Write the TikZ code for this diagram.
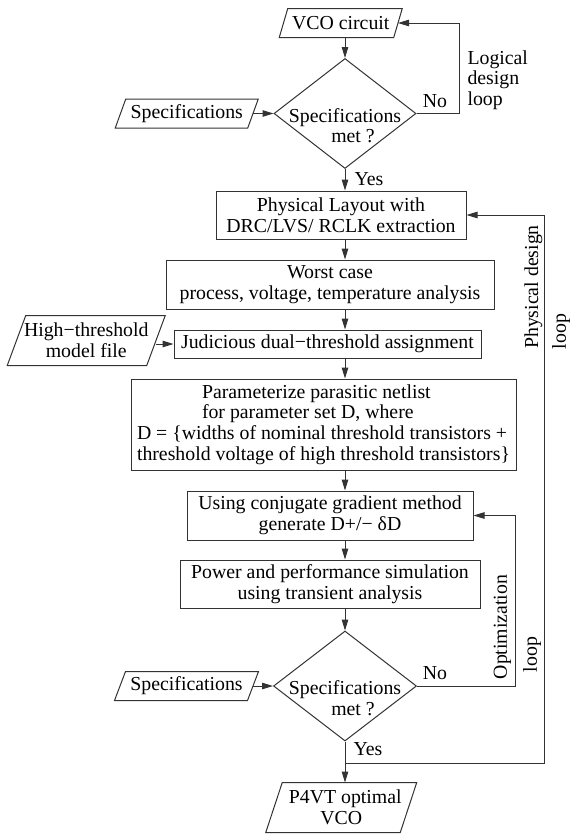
\documentclass[tikz,border=0pt]{standalone}
\usepackage{fontspec}
\setmainfont{Liberation Serif}
\usetikzlibrary{arrows.meta,shapes.geometric,calc}
\colorlet{linec}{black!80}
\tikzset{
  box/.style={draw=linec, rectangle, inner sep=0pt, align=center},
  slantbox/.style={rectangle, inner sep=0pt, align=center},
  decision/.style={draw=linec, diamond, inner sep=0pt},
  lbl/.style={inner sep=0pt, align=center},
  conn/.style={draw=linec},
}
\newcommand\slantframe[2]{\draw[linec] ($(#1.south west)+(-#2,0)$) -- ($(#1.south east)+(-#2,0)$) -- ($(#1.north east)+(#2,0)$) -- ($(#1.north west)+(#2,0)$) -- cycle;}
\begin{document}
\begin{tikzpicture}[x=1pt,y=-1pt,line width=1pt,
  font=\fontsize{19.8}{20.6}\selectfont,
  >={Triangle[length=11pt,width=6.5pt]}]
\useasboundingbox (0,0) rectangle (575,838);
\fill[white] (0,0) rectangle (575,838);
\coordinate (ax) at (345,0);

% top part
\node[slantbox, minimum width=113.5, minimum height=28] (vco) at (340.75,23) {VCO circuit};
\slantframe{vco}{4.25}
\node[decision, minimum width=142, minimum height=110] (d1) at (345,113.5) {};
\node[lbl] (d1t) at ($(d1)+(0,12)$) {Specifications\\\hspace*{16pt}met ?};
\node[slantbox, minimum width=131.5, minimum height=28] (spec1) at (186.75,113.5) {Specifications};
\slantframe{spec1}{5.25}
\node[lbl] (no1) at (435,101) {No};
\node[lbl, anchor=west, align=left] (lgl) at (467,80) {Logical\\design\\loop};
\node[lbl] (yes1) at (369,179) {Yes};

% boxes
\node[box, minimum width=250, minimum height=48] (phys) at (341,215) {Physical Layout with\\DRC/LVS/ RCLK extraction};
\node[box, minimum width=328, minimum height=49] (worst) at (330,284.5) {Worst case\\process, voltage, temperature analysis};
\node[box, minimum width=307, minimum height=28] (judi) at (327.5,344) {Judicious dual−threshold assignment};
\node[slantbox, minimum width=138.5, minimum height=49] (ht) at (86.25,340.5) {High−threshold\\model file};
\slantframe{ht}{9.25}
\node[box, minimum width=385, minimum height=91, align=left] (param) at (323.5,424.5) {\hspace*{65pt}Parameterize parasitic netlist\\\hspace*{65pt}for parameter set D, where\\D = \{widths of nominal threshold transistors +\\threshold voltage of high threshold transistors\}};
\node[box, minimum width=286, minimum height=49] (using) at (330,515.5) {Using conjugate gradient method\\generate D+/− δD};
\node[box, minimum width=300, minimum height=48] (power) at (330,584) {Power and performance simulation\\using transient analysis};

% bottom decision
\node[decision, minimum width=143, minimum height=110] (d2) at (345,686) {};
\node[lbl] (d2t) at ($(d2)+(0,12)$) {Specifications\\\hspace*{16pt}met ?};
\node[slantbox, minimum width=132, minimum height=28] (spec2) at (186.5,686) {Specifications};
\slantframe{spec2}{5.5}
\node[lbl] (no2) at (435,673) {No};
\node[lbl] (yes2) at (368,749) {Yes};
\node[slantbox, minimum width=133.5, minimum height=49] (p4vt) at (341.25,807.5) {\hspace*{8pt}P4VT optimal\\VCO};
\slantframe{p4vt}{8.25}

% loop labels
\node[lbl, rotate=90] (optl1) at (502.5,627) {Optimization};
\node[lbl, rotate=90] (optl2) at (532,654.5) {loop};
\node[lbl, rotate=90] (phyl1) at (533.5,287) {Physical design};
\node[lbl, rotate=90] (phyl2) at (561,331.5) {loop};

% connectors
\coordinate (lg) at (459,113.5);
\coordinate (ol) at (515,686);
\coordinate (br) at (345,763);
\coordinate (pl) at (544,763);
\draw[conn,->] (vco.south -| ax) -- (d1.north);
\draw[conn,->] (spec1.east) -- (d1.west);
\draw[conn,->] (d1.east) -- (lg) |- (vco.east);
\draw[conn,->] (d1.south) -- (d1.south |- phys.north);
\draw[conn,->] (phys.south -| ax) -- (worst.north -| ax);
\draw[conn,->] (worst.south -| ax) -- (judi.north -| ax);
\draw[conn,->] (ht.east |- judi.west) -- (judi.west);
\draw[conn,->] (judi.south -| ax) -- (param.north -| ax);
\draw[conn,->] (param.south -| ax) -- (using.north -| ax);
\draw[conn,->] (using.south -| ax) -- (power.north -| ax);
\draw[conn,->] (power.south -| ax) -- (d2.north);
\draw[conn,->] (spec2.east) -- (d2.west);
\draw[conn,->] (d2.east) -- (ol) |- (using.east);
\draw[conn,->] (d2.south) -- (d2.south |- p4vt.north);
\draw[conn,->] (br) -- (pl) |- (phys.east);
\end{tikzpicture}
\end{document}
